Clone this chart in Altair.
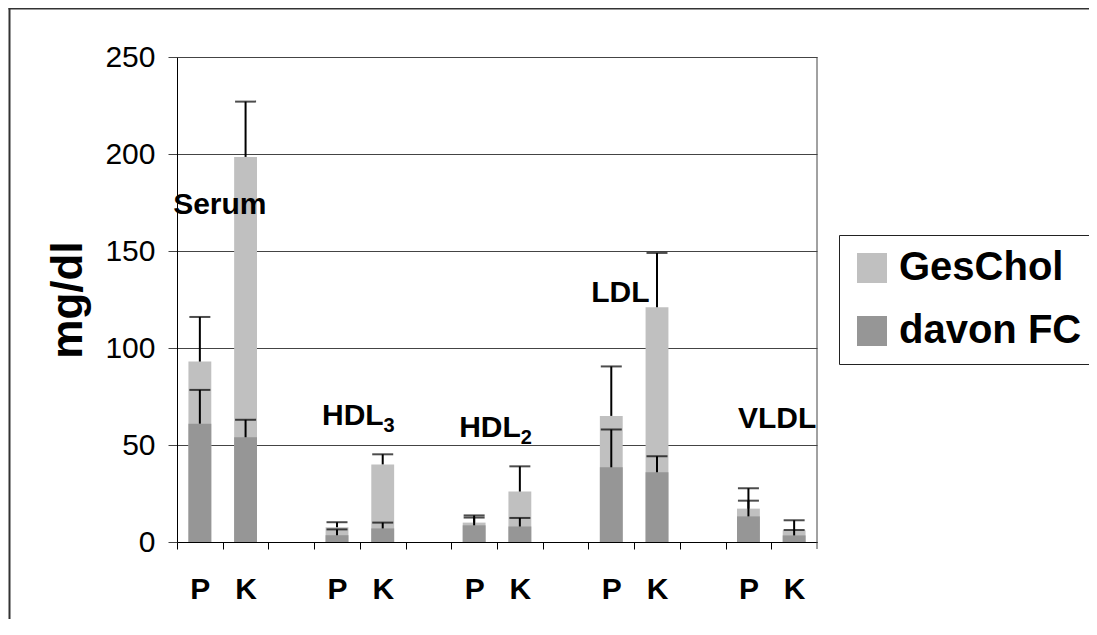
import altair as alt
import pandas as pd

# ---------------- data ----------------
fractions = ["Serum", "HDL3", "HDL2", "LDL", "VLDL"]
groups = ["P", "K"]
series_names = ["GesChol", "davon FC"]
# values per fraction, P then K
ges_chol = [93, 198.5, 7.6, 40, 10, 26, 65, 121, 17.2, 6]
ges_err = [23, 28.5, 2.6, 5.2, 3.7, 13, 25.5, 28, 10.5, 5.2]
free_chol = [61, 54, 3.5, 7, 8.6, 8, 38.5, 36, 13.2, 3.4]
free_err = [17.4, 9, 3, 3, 4, 4.4, 19.5, 8.2, 8.1, 2.8]
y_ticks = [0, 50, 100, 150, 200, 250]

label_main = ["Serum", "HDL", "HDL", "LDL", "VLDL"]
label_sub = ["", "3", "2", "", ""]
label_y = [169, 60.2, 54, 123.6, 58.6]

# ---------------- tables ----------------
slots = []
for i, f in enumerate(fractions):
    if i > 0:
        slots.append(f"gap{i}")
    for g in groups:
        slots.append(f"{f}|{g}")

rows = []
k = 0
for f in fractions:
    for g in groups:
        rows.append({"slot": f"{f}|{g}", "series": series_names[0],
                     "value": ges_chol[k], "top": ges_chol[k] + ges_err[k]})
        rows.append({"slot": f"{f}|{g}", "series": series_names[1],
                     "value": free_chol[k], "top": free_chol[k] + free_err[k]})
        k += 1
df = pd.DataFrame(rows)
df_ges = df[df.series == series_names[0]].reset_index(drop=True)
df_fc = df[df.series == series_names[1]].reset_index(drop=True)

FONT = "Liberation Sans"
W, H = 640, 485
HALF_STEP = W / len(slots) / 2

x_enc = alt.X(
    "slot:N",
    scale=alt.Scale(domain=slots, paddingInner=0.5, paddingOuter=0.25),
    axis=alt.Axis(
        title=None,
        labelExpr="indexof(datum.value, '|') >= 0 ? split(datum.value, '|')[1] : ''",
        labelAngle=0,
        labelFont=FONT,
        labelFontSize=30,
        labelFontWeight="bold",
        labelColor="black",
        labelPadding=25,
        tickOffset=-HALF_STEP,
        labelOffset=HALF_STEP,
        tickSize=7,
        tickColor="black",
        domainColor="black",
        grid=False,
    ),
)
y_enc = alt.Y(
    "value:Q",
    stack=None,
    scale=alt.Scale(domain=[0, 250], nice=False),
    axis=alt.Axis(
        values=y_ticks,
        title="mg/dl",
        titleFont=FONT,
        titleFontSize=44,
        titleFontWeight="bold",
        titleColor="black",
        titlePadding=14,
        labelFont=FONT,
        labelFontSize=30,
        labelColor="black",
        labelPadding=13,
        tickSize=9,
        tickColor="#444444",
        domainColor="black",
        grid=True,
        gridColor="#444444",
    ),
)
color_enc = alt.Color(
    "series:N",
    scale=alt.Scale(domain=series_names, range=["#C0C0C0", "#969696"]),
    legend=alt.Legend(
        title=None,
        orient="none",
        legendX=662,
        legendY=178,
        symbolType="square",
        symbolSize=900,
        symbolStrokeWidth=0,
        labelFont=FONT,
        labelFontSize=40,
        labelFontWeight="bold",
        labelColor="black",
        labelOffset=7,
        labelLimit=500,
        padding=13,
        rowPadding=23,
        strokeColor="#222222",
        fillColor="white",
    ),
)

bars_ges = alt.Chart(df_ges).mark_bar().encode(x=x_enc, y=y_enc, color=color_enc)
bars_fc = alt.Chart(df_fc).mark_bar().encode(x=x_enc, y=y_enc, color=color_enc)

err_rules = alt.Chart(df).mark_rule(color="black", strokeWidth=2).encode(
    x="slot:N", y="value:Q", y2="top:Q"
)
err_caps = alt.Chart(df).mark_tick(color="black", thickness=2, size=21).encode(
    x="slot:N", y="top:Q"
)

# fraction labels (main text + subscript)
label_dx = [20, -15, -15, -20, -10.5]
label_align = ["center", "left", "left", "left", "left"]
sub_dx = [0, 46.6, 46.6, 0, 0]
text_layers = []
for i, f in enumerate(fractions):
    ldf = pd.DataFrame({"slot": [f"{f}|P"], "value": [label_y[i]],
                        "txt": [label_main[i]]})
    text_layers.append(
        alt.Chart(ldf).mark_text(
            align=label_align[i], baseline="alphabetic", font=FONT,
            fontSize=30, fontWeight="bold", color="black", dx=label_dx[i]
        ).encode(x="slot:N", y="value:Q", text="txt:N")
    )
    if label_sub[i]:
        sdf = pd.DataFrame({"slot": [f"{f}|P"], "value": [label_y[i]],
                            "txt": [label_sub[i]]})
        text_layers.append(
            alt.Chart(sdf).mark_text(
                align="left", baseline="alphabetic", font=FONT,
                fontSize=20, fontWeight="bold", color="black",
                dx=sub_dx[i], dy=7
            ).encode(x="slot:N", y="value:Q", text="txt:N")
        )

# plot-area right border and outer chart frame lines (decoration)
one = pd.DataFrame({"k": [0]})
right_border = alt.Chart(one).mark_rule(color="#444444", strokeWidth=1).encode(
    x=alt.value(W), x2=alt.value(W), y=alt.value(0), y2=alt.value(H + 7)
)
frame_left = alt.Chart(one).mark_rule(color="#333333", strokeWidth=2).encode(
    x=alt.value(-167.5), x2=alt.value(-167.5),
    y=alt.value(-49), y2=alt.value(H + 80)
)
frame_top = alt.Chart(one).mark_rule(color="#333333", strokeWidth=2).encode(
    x=alt.value(-168.5), x2=alt.value(930),
    y=alt.value(-48.5), y2=alt.value(-48.5)
)

chart = alt.layer(
    frame_left, frame_top, bars_ges, bars_fc, err_rules, err_caps,
    right_border, *text_layers
).properties(
    width=W,
    height=H,
    autosize=alt.AutoSizeParams(type="none"),
    padding={"left": 169, "top": 49, "right": 272, "bottom": 77},
    background="white",
).configure_view(strokeWidth=0)

chart.save("out.html", embed_options={"renderer": "svg", "actions": False})
